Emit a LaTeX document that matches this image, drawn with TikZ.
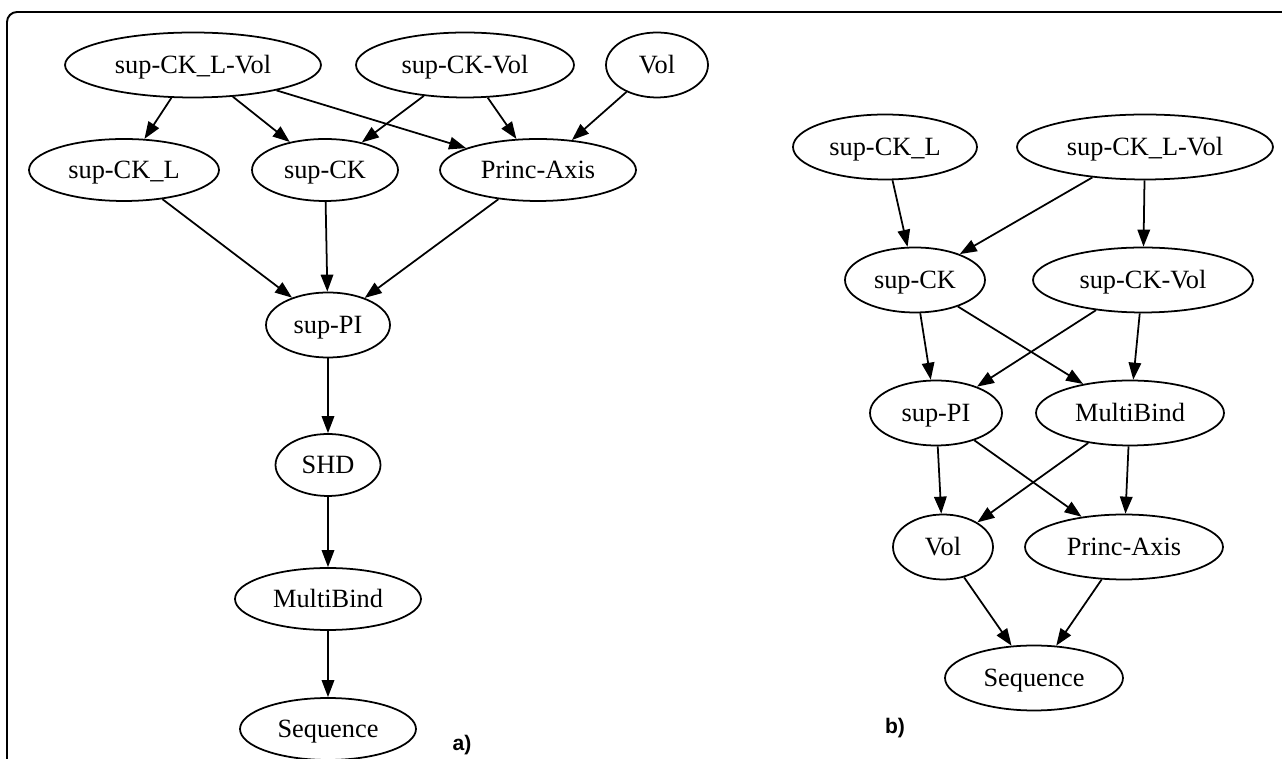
\documentclass[tikz,border=0pt]{standalone}
\usepackage{fontspec}
\setmainfont{Liberation Serif}
\newfontfamily\labelfont{Liberation Sans}
\usetikzlibrary{shapes.geometric,arrows.meta}

\tikzset{
	gnode/.style={draw, ellipse, line width=1pt, inner sep=0pt,
		text height=10pt, text depth=0pt,
		minimum height=1.3cm, font=\fontsize{15}{18}\selectfont},
	gedge/.style={line width=1pt, -{Triangle[length=0.34cm,width=0.25cm]}},
	panel/.style={font=\labelfont\bfseries\fontsize{12}{14}\selectfont}
}

\begin{document}
\begin{tikzpicture}[x=0.02cm, y=-0.02cm]
	\useasboundingbox (0,0) rectangle (1282,759);
	\draw [line width=1.1pt, rounded corners=0.2cm] (7,759) -- (7,12) -- (1282,12);

	% a)
	\node [gnode, minimum width=5.12cm] (a1) at (193,65) {sup-CK\_L-Vol};
	\node [gnode, minimum width=4.36cm] (a2) at (465,65) {sup-CK-Vol};
	\node [gnode, minimum width=2.04cm] (a3) at (657,65) {Vol};
	\node [gnode, minimum width=3.8cm, minimum height=1.24cm] (a4) at (124,170) {sup-CK\_L};
	\node [gnode, minimum width=2.92cm, minimum height=1.24cm] (a5) at (325,170) {sup-CK};
	\node [gnode, minimum width=3.92cm, minimum height=1.24cm] (a6) at (538,170) {Princ-Axis};
	\node [gnode, minimum width=2.48cm] (a7) at (328,325) {sup-PI};
	\node [gnode, minimum width=2.1cm, minimum height=1.24cm] (a8) at (328,465) {SHD};
	\node [gnode, minimum width=3.72cm, minimum height=1.24cm] (a9) at (328,599) {MultiBind};
	\node [gnode, minimum width=3.52cm, minimum height=1.24cm] (a10) at (328,729) {Sequence};
	\node [panel] (la) at (462,745) {a)};

	\path [gedge]
	(a1) edge (a4)
	(a1) edge (a5)
	(a1) edge (a6)
	(a2) edge (a5)
	(a2) edge (a6)
	(a3) edge (a6)
	(a4) edge (a7)
	(a5) edge (a7)
	(a6) edge (a7)
	(a7) edge (a8)
	(a8) edge (a9)
	(a9) edge (a10);

	% b)
	\node [gnode, minimum width=3.68cm] (b1) at (885,147) {sup-CK\_L};
	\node [gnode, minimum width=5.12cm] (b2) at (1145,147) {sup-CK\_L-Vol};
	\node [gnode, minimum width=2.8cm] (b3) at (915,280) {sup-CK};
	\node [gnode, minimum width=4.4cm] (b4) at (1143,280) {sup-CK-Vol};
	\node [gnode, minimum width=2.64cm] (b5) at (936,413) {sup-PI};
	\node [gnode, minimum width=3.76cm] (b6) at (1130,413) {MultiBind};
	\node [gnode, minimum width=2.0cm] (b7) at (943,547) {Vol};
	\node [gnode, minimum width=3.96cm] (b8) at (1124,547) {Princ-Axis};
	\node [gnode, minimum width=3.56cm] (b9) at (1034,678) {Sequence};
	\node [panel] (lb) at (895,728) {b)};

	\path [gedge]
	(b1) edge (b3)
	(b2) edge (b3)
	(b2) edge (b4)
	(b3) edge (b5)
	(b3) edge (b6)
	(b4) edge (b5)
	(b4) edge (b6)
	(b5) edge (b7)
	(b5) edge (b8)
	(b6) edge (b7)
	(b6) edge (b8)
	(b7) edge (b9)
	(b8) edge (b9);
\end{tikzpicture}
\end{document}
